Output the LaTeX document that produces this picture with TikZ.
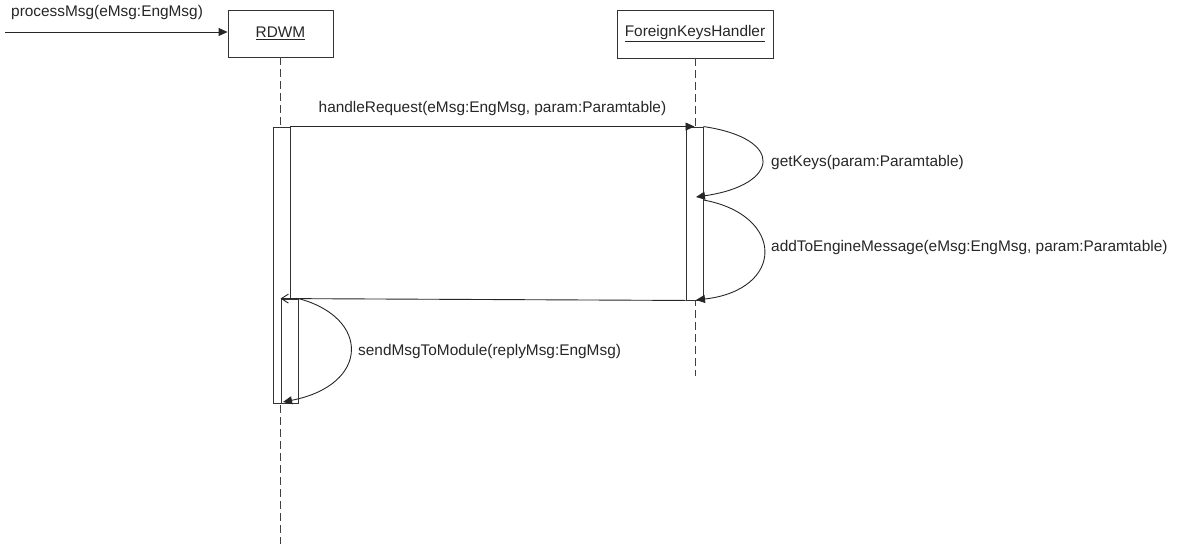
\documentclass[tikz,border=0pt]{standalone}
\usepackage{fontspec}
\setmainfont{Liberation Sans}
\usetikzlibrary{arrows.meta}
\tikzset{
  lbl/.style={inner sep=0pt, text=black!85, font=\fontsize{15.4}{18}\selectfont},
  objbox/.style={lbl, draw=black!80, line width=0.9pt, fill=white},
  actbox/.style={draw=black!80, line width=0.9pt, fill=white, minimum width=17pt, inner sep=0pt},
  lifeline/.style={draw=black!75, line width=0.9pt, dash pattern=on 8pt off 4pt},
  msg/.style={draw=black!85, line width=0.9pt, -{Triangle[length=9pt,width=8pt]}},
  retmsg/.style={draw=black!85, line width=0.9pt, -{Straight Barb[length=7pt,width=9pt]}}
}
\begin{document}
\begin{tikzpicture}[x=1pt,y=-1pt]
\useasboundingbox (0,0) rectangle (1189,544);
\node[objbox, minimum width=105pt, minimum height=47pt] (rdwm) at (280.5,33.5) {\underline{RDWM}};
\node[objbox, minimum width=156pt, minimum height=48pt] (fkh) at (695,34) {\underline{ForeignKeysHandler}};
\coordinate (rdwmEnd) at (rdwm.south |- 0,544);
\coordinate (fkhEnd) at (fkh.south |- 0,376);
\draw[lifeline] (rdwm.south) -- (rdwmEnd);
\draw[lifeline] (fkh.south) -- (fkhEnd);

\node[actbox, minimum height=276pt] (act1) at (281.5,265) {};
\node[actbox, minimum height=104pt] (act2) at (289.5,351) {};
\node[actbox, minimum height=173pt] (actF) at (694.5,213.5) {};

\coordinate (callIn) at (5,32);
\draw[msg] (callIn) -- (callIn -| rdwm.west);
\node[lbl, anchor=west] (procLbl) at (11,13) {processMsg(eMsg:EngMsg)};

\draw[msg] (act1.north east) -- node[lbl, above=10pt] (reqLbl) {handleRequest(eMsg:EngMsg, param:Paramtable)} (act1.north east -| actF.north);

\coordinate (keysEnd) at (696,197);
\draw[msg] (actF.north east) .. controls +(82,12) and +(84,-12) .. (keysEnd);
\node[lbl, anchor=west] (keysLbl) at (771,163) {getKeys(param:Paramtable)};

\coordinate (addStart) at (actF.east |- 0,200);
\coordinate (addEnd) at (696,300);
\draw[msg] (addStart) .. controls +(82,15) and +(89,-10) .. (addEnd);
\node[lbl, anchor=west] (addLbl) at (771,248) {addToEngineMessage(eMsg:EngMsg, param:Paramtable)};

\draw[retmsg] (actF.south west) -- (act2.north west);

\coordinate (sendEnd) at (283,402);
\draw[msg] (act2.north east) .. controls +(72,19) and +(87,-17) .. (sendEnd);
\node[lbl, anchor=west] (sendLbl) at (358,352) {sendMsgToModule(replyMsg:EngMsg)};
\end{tikzpicture}
\end{document}
